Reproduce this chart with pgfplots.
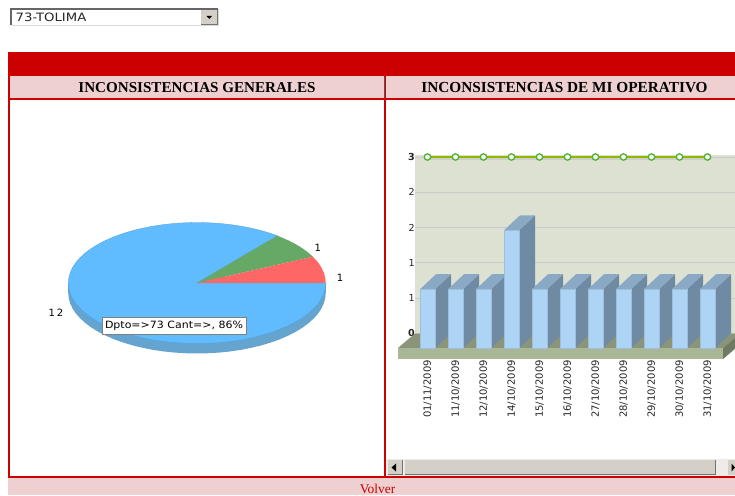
\documentclass[border=0pt]{standalone}
\usepackage{pgfplots}
\usepackage{pgfplotstable}
\usepackage{fontspec}
\pgfplotsset{compat=1.18}
\setmainfont{DejaVu Sans}
\newfontfamily\serif{Liberation Serif}
\definecolor{redb}{HTML}{CC0000}
\definecolor{pinkb}{HTML}{EFD0D0}
\definecolor{winb}{HTML}{D4D0C8}
\definecolor{plane}{HTML}{DCE1D2}
\definecolor{gridc}{HTML}{C8CACD}
\definecolor{basef}{HTML}{A9B797}
\definecolor{baset}{HTML}{8A9478}
\definecolor{baser}{HTML}{6F7A63}
\definecolor{barf}{HTML}{AED4F5}
\definecolor{bart}{HTML}{8AA9C4}
\definecolor{bars}{HTML}{6F8AA3}
\definecolor{pieb}{HTML}{60BCFF}
\definecolor{pied}{HTML}{66A4D0}
\definecolor{pieg}{HTML}{66A866}
\definecolor{pier}{HTML}{FF6666}
\definecolor{lineg}{HTML}{8FB800}
\definecolor{markg}{HTML}{4DB030}
\pgfplotstableread{
x y
0 0
.624 .781
.574 .819
.500 .866
.423 .906
.342 .940
.259 .966
.174 .985
.087 .996
0 1
-.087 .996
-.174 .985
-.259 .966
-.342 .940
-.423 .906
-.5 .866
-.574 .819
-.643 .766
-.707 .707
-.766 .643
-.819 .574
-.866 .5
-.906 .423
-.940 .342
-.966 .259
-.985 .174
-.996 .087
-1 0
-.996 -.087
-.985 -.174
-.966 -.259
-.940 -.342
-.906 -.423
-.866 -.5
-.819 -.574
-.766 -.643
-.707 -.707
-.643 -.766
-.574 -.819
-.5 -.866
-.423 -.906
-.342 -.940
-.259 -.966
-.174 -.985
-.087 -.996
0 -1
.087 -.996
.174 -.985
.259 -.966
.342 -.940
.423 -.906
.5 -.866
.574 -.819
.643 -.766
.707 -.707
.766 -.643
.819 -.574
.866 -.5
.906 -.423
.940 -.342
.966 -.259
.985 -.174
.996 -.087
1 0
}\pieblue
\pgfplotsset{pagebox/.style={at={(0pt,0pt)},anchor=south west,scale only axis,width=735pt,height=495pt,
  xmin=0,xmax=735,ymin=0,ymax=495,y dir=reverse,hide axis,clip=false}}
\begin{document}
\begin{tikzpicture}[x=1pt,y=1pt]
\path[use as bounding box] (0pt,0pt) rectangle (735pt,495pt);
% page chrome
\begin{axis}[pagebox]
\fill[white] (0,0) rectangle (735,495);
% select box
\fill[white] (10,8) rectangle (219,26);
\draw[color=black!60,line width=1.4pt] (11,25) -- (11,9) -- (218,9);
\draw[color=black!15,line width=1pt] (11,25.5) -- (218.5,25.5) -- (218.5,9);
\fill[winb] (201,10) rectangle (217.5,24.5);
\draw[black!55,line width=.8pt] (201,24.5) -- (217.5,24.5) -- (217.5,10);
\fill[black] (206.5,16) -- (212,16) -- (209.25,19) -- cycle;
\node[anchor=west,inner sep=0pt,text=black!85] at (15.5,17.5) {\scalebox{1.15}[1]{\fontsize{11.5}{12}\selectfont 73-TOLIMA}};
% table
\fill[redb] (8,52) rectangle (735,76);
\fill[pinkb] (8,76) rectangle (735,98);
\fill[redb] (8,98) rectangle (735,100);
\fill[redb] (8,76) rectangle (10,478);
\fill[redb] (384,76) rectangle (386,478);
\fill[black!60!pinkb] (384,77) rectangle (385,98);
\fill[pinkb] (8,478) rectangle (735,495);
\fill[redb] (8,475.5) rectangle (735,478);
\node[inner sep=0pt] at (197,87.5) {\serif\bfseries\fontsize{15.1}{16}\selectfont INCONSISTENCIAS GENERALES};
\node[inner sep=0pt] at (564.5,87.5) {\serif\bfseries\fontsize{15.3}{16}\selectfont INCONSISTENCIAS DE MI OPERATIVO};
\node[inner sep=0pt,text=redb] at (377.5,488.5) {\serif\fontsize{13.4}{14}\selectfont Volver};
% scrollbar
\fill[winb!40] (386,459) rectangle (735,475.5);
\fill[winb] (388,460) rectangle (402,474.5);
\draw[black!55,line width=.8pt] (388,474.5) -- (402,474.5) -- (402,460);
\fill[winb] (405,460) rectangle (715,474.5);
\draw[black!55,line width=.8pt] (405,474.5) -- (715,474.5) -- (715,460);
\fill[winb] (728,460) rectangle (735,474.5);
\fill[black] (396,463.5) -- (396,471.5) -- (391.5,467.5) -- cycle;
\fill[black] (731.5,463.5) -- (731.5,471.5) -- (735,467.5) -- cycle;
\end{axis}

% pie
\begin{axis}[at={(60pt,135pt)},anchor=south west,scale only axis,width=275pt,height=145pt,
  xmin=-1.0645,xmax=1.0723,ymin=-1.2727,ymax=1.124,hide axis,clip=false]
\addplot[fill=pied,draw=none] table[x=x,y expr=\thisrow{y}-0.165] {\pieblue} --cycle;
\addplot[fill=pied,draw=none] coordinates {(-1,0)(1,0)(1,-.165)(-1,-.165)} --cycle;
\addplot[fill=pieb,draw=pieb!85!black,line width=.3pt] table[x=x,y=y] {\pieblue} --cycle;
\addplot[fill=pieg,draw=none] coordinates {(0,0)(.901,.434)(.866,.5)(.819,.574)(.766,.643)(.707,.707)(.643,.766)(.624,.781)} --cycle;
\addplot[fill=pier,draw=none] coordinates {(0,0)(1,0)(.996,.087)(.985,.174)(.966,.259)(.94,.342)(.906,.423)(.901,.434)} --cycle;
\end{axis}

% chart back plane, grid and line
\begin{axis}[at={(415pt,161.5pt)},anchor=south west,scale only axis,width=320pt,height=178.5pt,
  xmin=-.4464,xmax=10.982,ymin=0,ymax=3.034,clip=false,
  axis background/.style={fill=plane},
  axis line style={draw=none},tick style={draw=none},
  xtick=\empty,ytick={0,.6,1.2,1.8,2.4,3},
  yticklabels={\textbf{0},1,1,2,2,\textbf{3}},
  ymajorgrids,grid style={gridc,line width=.8pt},
  yticklabel style={font=\fontsize{9.6}{10}\selectfont,inner sep=0pt,text=black!85,anchor=east},
  major tick length=3.5pt]
\addplot[black!25,opacity=.5,line width=3pt,yshift=-1.5pt] coordinates {(0,3)(10,3)};
\addplot[lineg,line width=1.8pt,mark=*,mark size=3.2pt,mark options={draw=markg,fill=white,line width=1.3pt}]
 coordinates {(0,3)(1,3)(2,3)(3,3)(4,3)(5,3)(6,3)(7,3)(8,3)(9,3)(10,3)};
\end{axis}

% chart base and bars
\begin{axis}[at={(385pt,135pt)},anchor=south west,scale only axis,width=350pt,height=220pt,
  xmin=-1.518,xmax=10.982,ymin=-.204,ymax=3.536,clip=true,
  axis line style={draw=none},tick style={draw=none},ytick=\empty,
  xtick={0,...,10},
  xticklabels={01/11/2009,11/10/2009,12/10/2009,14/10/2009,15/10/2009,16/10/2009,27/10/2009,28/10/2009,29/10/2009,30/10/2009,31/10/2009},
  xticklabel style={rotate=90,anchor=east,inner sep=0pt,font=\fontsize{10}{10}\selectfont,text=black!85},
  major tick length=0pt,
  xtick pos=bottom]
\addplot[fill=baset,draw=none] coordinates {(-1.054,0)(10.554,0)(11.161,.246)(-.446,.246)} --cycle;
\addplot[fill=basef,draw=none] coordinates {(-1.054,0)(10.554,0)(10.554,-.187)(-1.054,-.187)} --cycle;
\addplot[fill=baser,draw=none] coordinates {(10.554,0)(11.161,.246)(11.161,.059)(10.554,-.187)} --cycle;
\foreach \i/\v in {0/1,1/1,2/1,3/2,4/1,5/1,6/1,7/1,8/1,9/1,10/1}{
  \pgfmathsetmacro{\xa}{\i+.268}
  \pgfmathsetmacro{\xb}{\i+.839}
  \pgfmathsetmacro{\xc}{\i-.268}
  \pgfmathsetmacro{\xd}{\i+.303}
  \pgfmathsetmacro{\yt}{\v+.255}
  \edef\temp{\noexpand\addplot[fill=bars,draw=none] coordinates {(\xa,0)(\xb,.255)(\xb,\yt)(\xa,\v)} --cycle;
    \noexpand\addplot[fill=bart,draw=none] coordinates {(\xc,\v)(\xa,\v)(\xb,\yt)(\xd,\yt)} --cycle;}
  \temp
}
\addplot[ybar,bar width=15pt,bar shift=0pt,fill=barf,draw=barf!90!black,line width=.3pt]
 coordinates {(0,1)(1,1)(2,1)(3,2)(4,1)(5,1)(6,1)(7,1)(8,1)(9,1)(10,1)};
\end{axis}

% overlay texts on pie
\begin{axis}[pagebox]
\node[inner sep=0pt] at (317.7,248.3) {\fontsize{10}{11}\selectfont 1};
\node[inner sep=0pt] at (340,278.3) {\fontsize{10}{11}\selectfont 1};
\node[inner sep=0pt] at (56,312.7) {\fontsize{10}{11}\selectfont 1\kern2pt 2};
\draw[fill=white,draw=black!50,line width=.8pt] (102.5,317) rectangle (246,334);
\node[inner sep=0pt] at (174,325.7) {\scalebox{1.1}[1]{\fontsize{10}{11}\selectfont Dpto=>73 Cant=>, 86\%}};
\end{axis}
\end{tikzpicture}
\end{document}
